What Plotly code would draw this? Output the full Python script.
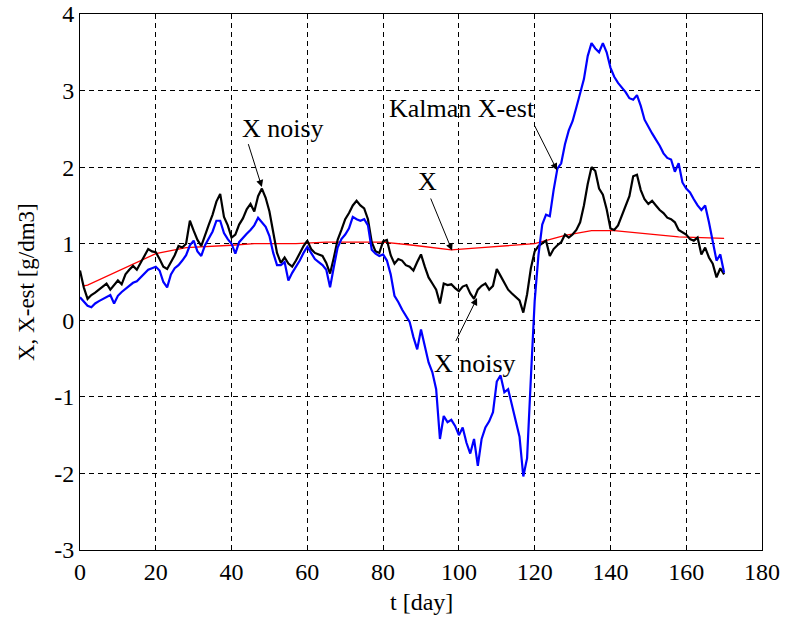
import plotly.graph_objects as go

# ---- data ----
t_days = list(range(0, 171))

x_noisy = [
    0.65, 0.43, 0.28, 0.33, 0.36, 0.40, 0.44, 0.48, 0.40, 0.46,
    0.52, 0.47, 0.60, 0.66, 0.71, 0.66, 0.75, 0.82, 0.93, 0.90,
    0.89, 0.80, 0.70, 0.67, 0.76, 0.85, 0.97, 0.95, 1.00, 1.30,
    1.17, 1.05, 0.97, 1.12, 1.25, 1.38, 1.55, 1.65, 1.35, 1.24,
    1.08, 1.12, 1.25, 1.33, 1.45, 1.52, 1.42, 1.62, 1.72, 1.60,
    1.42, 1.15, 0.88, 0.75, 0.82, 0.74, 0.70, 0.78, 0.88, 0.97,
    1.04, 0.93, 0.88, 0.86, 0.84, 0.75, 0.61, 0.82, 1.05, 1.18,
    1.32, 1.40, 1.50, 1.56, 1.50, 1.46, 1.32, 1.02, 0.90, 0.88,
    1.03, 1.05, 0.85, 0.74, 0.80, 0.78, 0.72, 0.70, 0.65, 0.76,
    0.86, 0.70, 0.56, 0.48, 0.40, 0.22, 0.48, 0.46, 0.47, 0.42,
    0.38, 0.44, 0.46, 0.35, 0.28, 0.40, 0.45, 0.48, 0.40, 0.45,
    0.67, 0.58, 0.48, 0.40, 0.35, 0.30, 0.26, 0.10, 0.34, 0.68,
    0.90, 0.97, 1.00, 1.04, 0.84, 0.93, 0.98, 1.02, 1.12, 1.08,
    1.12, 1.18, 1.28, 1.50, 1.78, 2.00, 1.95, 1.72, 1.64, 1.45,
    1.20, 1.18, 1.24, 1.36, 1.50, 1.62, 1.88, 1.90, 1.70, 1.58,
    1.52, 1.56, 1.50, 1.44, 1.40, 1.34, 1.32, 1.28, 1.18, 1.15,
    1.12, 1.06, 1.04, 1.08, 0.86, 0.95, 0.82, 0.74, 0.56, 0.68,
    0.60,
]

x_est = [
    0.30, 0.24, 0.19, 0.17, 0.22, 0.25, 0.28, 0.30, 0.33, 0.22,
    0.32, 0.37, 0.41, 0.45, 0.49, 0.51, 0.56, 0.62, 0.66, 0.68,
    0.70, 0.65, 0.50, 0.43, 0.60, 0.68, 0.72, 0.78, 0.85, 0.98,
    1.04, 0.90, 0.84, 0.98, 1.08, 1.16, 1.30, 1.30, 1.14, 1.06,
    1.00, 0.87, 1.02, 1.08, 1.13, 1.18, 1.24, 1.34, 1.28, 1.22,
    1.10, 0.88, 0.72, 0.72, 0.76, 0.52, 0.62, 0.70, 0.78, 0.88,
    0.96, 0.88, 0.80, 0.76, 0.72, 0.66, 0.43, 0.70, 0.95, 1.06,
    1.12, 1.20, 1.35, 1.32, 1.30, 1.32, 1.24, 0.92, 0.87, 0.84,
    0.86, 0.78, 0.60, 0.32, 0.24, 0.14, 0.06, -0.02, -0.22, -0.38,
    -0.12, -0.35, -0.55, -0.68, -0.90, -1.55, -1.25, -1.33, -1.30, -1.38,
    -1.50, -1.40, -1.60, -1.74, -1.55, -1.90, -1.55, -1.40, -1.32, -1.20,
    -0.80, -0.72, -0.94, -0.90, -1.10, -1.28, -1.52, -2.04, -1.80, -0.75,
    0.25, 0.85, 1.25, 1.38, 1.36, 1.70, 1.98, 2.05, 2.30, 2.48,
    2.60, 2.78, 2.95, 3.15, 3.45, 3.62, 3.55, 3.50, 3.62, 3.50,
    3.30, 3.18, 3.10, 3.04, 2.98, 2.90, 2.88, 2.94, 2.80, 2.62,
    2.52, 2.44, 2.36, 2.28, 2.18, 2.12, 2.10, 1.94, 2.05, 1.80,
    1.72, 1.67, 1.58, 1.50, 1.44, 1.50, 1.28, 1.05, 0.78, 0.86,
    0.62,
]

t_true = [1, 2, 20, 28, 40, 46, 57, 65, 75, 80, 88, 98, 106, 120, 128, 135, 141, 150, 158, 170]
x_true = [0.45, 0.46, 0.87, 0.95, 0.98, 1.00, 1.00, 1.02, 1.02, 1.02, 0.98, 0.92, 0.95, 1.00, 1.11, 1.17, 1.17, 1.13, 1.09, 1.07]

x_ticks = [0, 20, 40, 60, 80, 100, 120, 140, 160, 180]
x_ticktext = ["0", "20", "40", "60", "80", "100", "120", "140", "160", "180"]
y_ticks = [-3, -2, -1, 0, 1, 2, 3, 4]
y_ticktext = ["-3", "-2", "-1", "0", "1", "2", "3", "4"]

x_title = "t [day]"
y_title = "X, X-est [g/dm3]"

# annotation texts with (text position) and (arrow tail -> arrow tip) in data units
labels = ["X noisy", "Kalman X-est", "X", "X noisy"]
label_pos = [(53.6, 2.51), (100.8, 2.77), (91.8, 1.81), (104.2, -0.56)]
arrow_tail = [(44.3, 2.32), (119.8, 2.56), (92.4, 1.61), (99.0, -0.29)]
arrow_tip = [(48.0, 1.74), (125.9, 1.96), (98.2, 0.91), (104.8, 0.29)]

FONT = "Liberation Serif, Times New Roman, serif"

fig = go.Figure()
fig.add_trace(go.Scatter(x=t_true, y=x_true, mode="lines",
                         line=dict(color="#ff0000", width=1.3), name="X"))
fig.add_trace(go.Scatter(x=t_days, y=x_noisy, mode="lines",
                         line=dict(color="#000000", width=2.2), name="X noisy"))
fig.add_trace(go.Scatter(x=t_days, y=x_est, mode="lines",
                         line=dict(color="#0000ff", width=2.2), name="Kalman X-est"))

for txt, (tx, ty) in zip(labels, label_pos):
    fig.add_annotation(x=tx, y=ty, text=txt, showarrow=False,
                       font=dict(family=FONT, size=26, color="#000"))
for (ax_, ay_), (hx, hy) in zip(arrow_tail, arrow_tip):
    fig.add_annotation(x=hx, y=hy, ax=ax_, ay=ay_, axref="x", ayref="y",
                       text="", showarrow=True, arrowhead=2, arrowsize=1.4,
                       arrowwidth=1, arrowcolor="#000")

# axis titles as free text so the plot box keeps its exact place
fig.add_annotation(x=0.5, y=0, xref="paper", yref="paper", yshift=-52,
                   text=x_title, showarrow=False, yanchor="middle",
                   font=dict(family=FONT, size=24, color="#000"))
fig.add_annotation(x=0, y=0.5, xref="paper", yref="paper", xshift=-54,
                   text=y_title, showarrow=False, textangle=-90,
                   xanchor="center", yanchor="middle",
                   font=dict(family=FONT, size=23, color="#000"))

axis_common = dict(
    showline=True, linecolor="#000", linewidth=1, mirror=True,
    ticks="inside", ticklen=5, tickcolor="#000",
    showgrid=True, gridcolor="#000", gridwidth=1, griddash="5px,4px",
    zeroline=False, automargin=False,
    tickfont=dict(family=FONT, size=24, color="#000"),
)

fig.update_layout(
    width=785, height=621,
    margin=dict(l=80, r=23, t=14, b=71),
    paper_bgcolor="white", plot_bgcolor="white",
    showlegend=False,
    xaxis=dict(range=[0, 180], tickvals=x_ticks, ticktext=x_ticktext, **axis_common),
    yaxis=dict(range=[-3, 4], tickvals=y_ticks, ticktext=y_ticktext, **axis_common),
)

fig.write_html("out.html", config={"displayModeBar": False},
               post_script="document.body.style.margin='0';document.body.style.overflow='hidden';")
